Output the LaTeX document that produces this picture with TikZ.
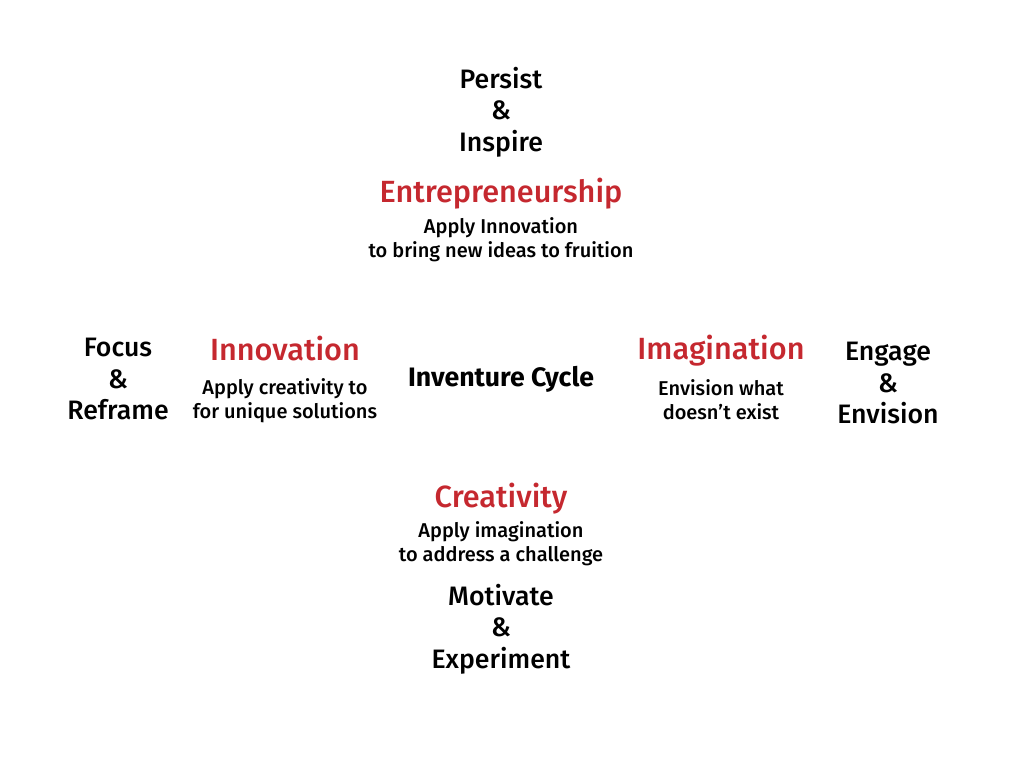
\documentclass[tikz,border=0pt]{standalone}
\usepackage{fontspec}
\setmainfont{Fira Sans}
\newfontfamily\firamedium{Fira Sans Medium}
\usepackage{tikz}
\usetikzlibrary{positioning}

\definecolor{cyclered}{RGB}{197,40,47}

\begin{document}
\begin{tikzpicture}[x=0.75pt, y=-0.75pt,
  pair/.style={align=center, font=\firamedium\fontsize{20}{23.6}\selectfont, text=black},
  stage/.style={font=\firamedium\fontsize{23}{27}\selectfont, text=cyclered},
  note/.style={align=center, font=\firamedium\fontsize{15}{18}\selectfont, text=black}]

\useasboundingbox (0, 0) rectangle (1024, 768);

% --- Centre ---
\node[font=\bfseries\fontsize{20}{24}\selectfont] (cycle) at (501, 379) {Inventure Cycle};

% --- Top: entrepreneurship ---
\node[pair] (persist) at (501, 112) {Persist\\\&\\Inspire};
\node[stage] (entre) at (501, 194) {Entrepreneurship};
\node[note] (entrenote) at (501, 240) {Apply Innovation\\to bring new ideas to fruition};

% --- Left: innovation ---
\node[pair] (focus) at (118, 379) {Focus\\\&\\Reframe};
\node[stage] (innov) at (285, 349) {Innovation};
\node[note] (innovnote) at (285, 401) {Apply creativity to\\for unique solutions};

% --- Right: imagination ---
\node[stage] (imag) at (721, 351) {Imagination};
\node[note] (imagnote) at (721, 400) {Envision what\\doesn’t exist};
\node[pair] (engage) at (888, 383) {Engage\\\&\\Envision};

% --- Bottom: creativity ---
\node[stage] (creat) at (501, 499) {Creativity};
\node[note] (creatnote) at (501, 544) {Apply imagination\\to address a challenge};
\node[pair] (motivate) at (501, 629) {Motivate\\\&\\Experiment};

\end{tikzpicture}
\end{document}
